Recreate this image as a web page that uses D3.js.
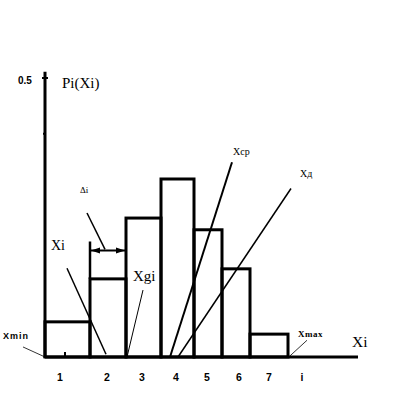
<!DOCTYPE html>
<html><head><meta charset="utf-8">
<script src="https://cdn.jsdelivr.net/npm/d3@7"></script>
<style>body{margin:0;background:#fff}svg{display:block}</style>
</head><body>
<script>
// Data
const binEdges = [0, 4.5, 8.1, 11.6, 14.9, 17.7, 20.5, 24.3];
const binHeights = [0.063, 0.140, 0.249, 0.319, 0.228, 0.158, 0.041];
const tickLabels = ["1", "2", "3", "4", "5", "6", "7", "i"];
const tickLabelPos = [1.5, 6.2, 9.7, 13.1, 16.2, 19.4, 22.4, 25.7];
const yTicks = [0.5, 0.4];
const yTickLabels = ["0.5"];
// annotation pointer lines: [x1,y1,x2,y2] in data units
const pointerNames = ["Xi", "Xgi", "Xcp", "Xd", "di", "Xmin", "Xmax"];
const pointerLines = [
  [2.2, 0.159, 6.1, 0.005],
  [9.8, 0.120, 8.2, 0.0],
  [18.7, 0.349, 12.5, 0.0],
  [24.6, 0.302, 13.3, 0.0],
  [4.2, 0.258, 6.0, 0.193],
  [-2.2, 0.018, 0, 0],
  [26.2, 0.030, 24.5, 0.002]
];

const W = 404, H = 402;
const svg = d3.select("body").append("svg").attr("width", W).attr("height", H);
const x = d3.scaleLinear().domain([0, 31.3]).range([45, 358]);
const y = d3.scaleLinear().domain([0, 0.5]).range([357, 78]);

// bars
const bins = binHeights.map((h, i) => ({x0: binEdges[i], x1: binEdges[i + 1], h}));
svg.selectAll("rect.bar").data(bins).enter().append("rect")
  .attr("x", d => x(d.x0)).attr("width", d => x(d.x1) - x(d.x0))
  .attr("y", d => y(d.h)).attr("height", d => y(0) - y(d.h))
  .attr("fill", "none").attr("stroke", "#000").attr("stroke-width", 3);

// extension of bar 2 left edge
svg.append("line").attr("x1", x(binEdges[1])).attr("x2", x(binEdges[1]))
  .attr("y1", y(binHeights[1])).attr("y2", y(0.207))
  .attr("stroke", "#000").attr("stroke-width", 2.5);

// axes
svg.append("line").attr("x1", x(0)).attr("x2", x(0)).attr("y1", y(0) + 1).attr("y2", y(0.511))
  .attr("stroke", "#000").attr("stroke-width", 3);
svg.append("line").attr("x1", x(0)).attr("x2", x(31.3)).attr("y1", y(0)).attr("y2", y(0))
  .attr("stroke", "#000").attr("stroke-width", 3);
svg.selectAll("line.yt").data(yTicks).enter().append("line")
  .attr("x1", (d, i) => x(0) - (i === 0 ? 3 : 2))
  .attr("x2", (d, i) => x(0) + (i === 0 ? 3 : 0))
  .attr("y1", d => y(d)).attr("y2", d => y(d))
  .attr("stroke", "#000").attr("stroke-width", 2);
svg.append("line").attr("x1", x(2)).attr("x2", x(2)).attr("y1", y(0)).attr("y2", y(0.009))
  .attr("stroke", "#000").attr("stroke-width", 2);

// x tick labels
svg.selectAll("text.xl").data(tickLabels).enter().append("text")
  .attr("x", (d, i) => x(tickLabelPos[i])).attr("y", 381)
  .attr("text-anchor", "middle")
  .attr("font-family", "Liberation Sans, Arial, sans-serif").attr("font-weight", "bold")
  .attr("font-size", 10.5).text(d => d);

// y label 0.5
svg.append("text").attr("x", 18).attr("y", 84).attr("font-family", "Liberation Sans, Arial, sans-serif")
  .attr("font-weight", "bold").attr("font-size", 10).text(yTickLabels[0]);

// axis titles
const serif = "Liberation Serif, Times New Roman, serif";
svg.append("text").attr("x", 62).attr("y", 88).attr("font-family", serif).attr("font-size", 15).text("Pi(Xi)");
svg.append("text").attr("x", 352).attr("y", 347).attr("font-family", serif).attr("font-size", 15.5).text("Xi");

// annotation lines
const widths = [1.5, 1, 2, 1.5, 1.5, 0.8, 0.8];
svg.selectAll("line.ptr").data(pointerLines).enter().append("line")
  .attr("x1", d => x(d[0])).attr("y1", d => y(d[1]))
  .attr("x2", d => x(d[2])).attr("y2", d => y(d[3]))
  .attr("stroke", "#000").attr("stroke-width", (d, i) => widths[i]);

// double arrow for Δi
const ay = y(0.191);
const ax1 = x(binEdges[1]) + 1, ax2 = x(binEdges[2]) - 1;
svg.append("line").attr("x1", ax1).attr("x2", ax2).attr("y1", ay).attr("y2", ay)
  .attr("stroke", "#000").attr("stroke-width", 2);
svg.append("path").attr("d", `M${ax1},${ay} l9,-3 l0,6 Z M${ax2},${ay} l-9,-3 l0,6 Z`).attr("fill", "#000");

// annotation texts
svg.append("text").attr("x", 51).attr("y", 250).attr("font-family", serif).attr("font-size", 14).text("Xi");
svg.append("text").attr("x", 133).attr("y", 281).attr("font-family", serif).attr("font-size", 15).text("Xgi");
svg.append("text").attr("x", 233).attr("y", 155).attr("font-family", serif).attr("font-size", 10).text("Xcp");
svg.append("text").attr("x", 300).attr("y", 177).attr("font-family", serif).attr("font-size", 10).text("Xд");
svg.append("text").attr("x", 80).attr("y", 193).attr("font-family", serif).attr("font-size", 9).text("Δi");
svg.append("text").attr("x", 3).attr("y", 339).attr("font-family", "Liberation Sans, Arial, sans-serif")
  .attr("font-weight", "bold").attr("font-size", 9).attr("letter-spacing", 1).text("Xmin");
svg.append("text").attr("x", 298).attr("y", 337).attr("font-family", serif)
  .attr("font-weight", "bold").attr("font-size", 9).attr("letter-spacing", 0.5).text("Xmax");
</script>
</body></html>
